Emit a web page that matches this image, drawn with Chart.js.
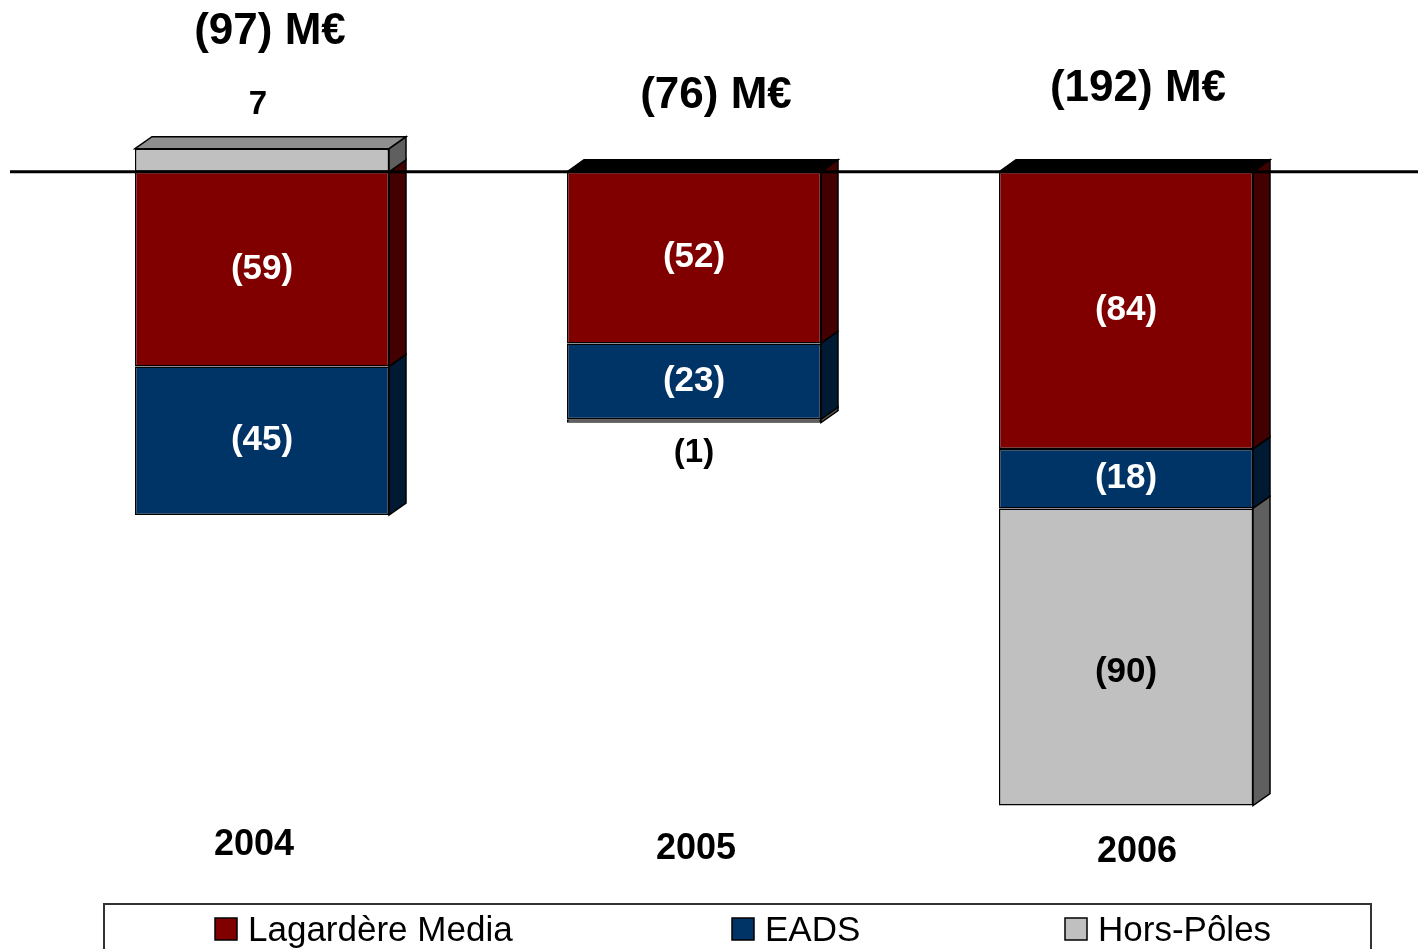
<!DOCTYPE html>
<html>
<head>
<meta charset="utf-8">
<title>Résultat par pôle</title>
<script src="https://cdn.jsdelivr.net/npm/chart.js@4/dist/chart.umd.min.js"></script>
<style>
  html, body { margin: 0; padding: 0; background: #fff; }
  #wrap { width: 1418px; height: 949px; }
</style>
</head>
<body>
<div id="wrap"><canvas id="chart" width="1418" height="949"></canvas></div>
<script>
/* ── Data ── */
var categories = ['2004', '2005', '2006'];
var lagardere  = [-59, -52, -84];
var eads       = [-45, -23, -18];
var horsPoles  = [7, -1, -90];
var seriesNames = ['Lagardère Media', 'EADS', 'Hors-Pôles'];

/* ── Look ── */
var FONT = 'Arial, "Liberation Sans", Helvetica, sans-serif';
var frontColors = ['#800000', '#003366', '#c0c0c0'];
var sideColors  = ['#420000', '#001a33', '#5f5f5f'];
var topColors   = ['#5a0000', '#00264d', '#8f8f8f'];
var DX = 17, DY = -12;

// hand placed text rows (as on the slide)
var totalY  = [32, 96, 89];
var totalDx = [8, 22, 12];
var yearY   = [845, 849, 852];
var yearDx  = [-8, 2, 11];
var legendX = [215, 732, 1065];

function fmt(v) {
  return v < 0 ? '(' + Math.abs(v) + ')' : String(v);
}

function poly(ctx, pts, fill) {
  ctx.beginPath();
  ctx.moveTo(pts[0][0], pts[0][1]);
  for (var i = 1; i < pts.length; i++) ctx.lineTo(pts[i][0], pts[i][1]);
  ctx.closePath();
  ctx.fillStyle = fill;
  ctx.fill();
  ctx.lineWidth = 1.5;
  ctx.strokeStyle = '#000';
  ctx.stroke();
}

var threeD = {
  id: 'threeD',
  afterDatasetsDraw: function (chart) {
    var ctx = chart.ctx;
    var n = chart.data.datasets.length;
    ctx.save();

    // side faces
    for (var i = 0; i < n; i++) {
      var meta = chart.getDatasetMeta(i);
      meta.data.forEach(function (bar) {
        var right = bar.x + bar.width / 2;
        var top = Math.min(bar.y, bar.base), bottom = Math.max(bar.y, bar.base);
        poly(ctx, [[right, top], [right + DX, top + DY], [right + DX, bottom + DY], [right, bottom]], sideColors[i]);
      });
    }

    // top face on the highest segment of each column
    categories.forEach(function (c, j) {
      var best = null, bestIdx = 0;
      for (var i = 0; i < n; i++) {
        var bar = chart.getDatasetMeta(i).data[j];
        var top = Math.min(bar.y, bar.base);
        if (best === null || top < best.top - 0.5) { best = { bar: bar, top: top }; bestIdx = i; }
      }
      var val = chart.data.datasets[bestIdx].data[j];
      var l = best.bar.x - best.bar.width / 2, r = best.bar.x + best.bar.width / 2;
      poly(ctx, [[l, best.top], [l + DX, best.top + DY], [r + DX, best.top + DY], [r, best.top]],
           val > 0 ? topColors[bestIdx] : '#000');
    });

    // zero line over the bars
    var y0 = chart.scales.y.getPixelForValue(0);
    ctx.beginPath();
    ctx.moveTo(10, y0);
    ctx.lineTo(1418, y0);
    ctx.lineWidth = 3;
    ctx.strokeStyle = '#000';
    ctx.stroke();

    // segment labels: inside when the segment is tall enough, else outside
    ctx.textAlign = 'center';
    ctx.textBaseline = 'middle';
    for (var i = 0; i < n; i++) {
      var ds = chart.data.datasets[i];
      chart.getDatasetMeta(i).data.forEach(function (bar, j) {
        var v = ds.data[j];
        var top = Math.min(bar.y, bar.base), bottom = Math.max(bar.y, bar.base);
        if (bottom - top > 40) {
          ctx.font = 'bold 35px ' + FONT;
          ctx.fillStyle = i === 2 ? '#000' : '#fff';
          var cy = (top + bottom) / 2 + (i === 2 && v < 0 ? 15 : 0);
          ctx.fillText(fmt(v), bar.x, cy);
        } else {
          ctx.font = 'bold 33px ' + FONT;
          ctx.fillStyle = '#000';
          if (v > 0) ctx.fillText(fmt(v), bar.x - 4, top - 44);
          else ctx.fillText(fmt(v), bar.x, bottom + 30);
        }
      });
    }

    // totals and years
    var xs = chart.scales.x;
    categories.forEach(function (c, j) {
      var total = 0;
      for (var i = 0; i < n; i++) total += chart.data.datasets[i].data[j];
      var cx = xs.getPixelForValue(j);
      ctx.fillStyle = '#000';
      ctx.font = 'bold 44px ' + FONT;
      ctx.fillText(fmt(total) + ' M€', cx + totalDx[j], totalY[j]);
      ctx.font = 'bold 36px ' + FONT;
      ctx.fillText(c, cx + yearDx[j], yearY[j]);
    });
    ctx.restore();
  },
  afterDraw: function (chart) {
    var ctx = chart.ctx;
    ctx.save();
    // legend frame
    ctx.lineWidth = 2;
    ctx.strokeStyle = '#333';
    ctx.strokeRect(104, 904, 1267, 60);

    ctx.font = '35px ' + FONT;
    ctx.textBaseline = 'alphabetic';
    ctx.textAlign = 'left';
    var box = 22, gapText = 11;
    seriesNames.forEach(function (s, i) {
      var x = legendX[i];
      ctx.fillStyle = frontColors[i];
      ctx.fillRect(x, 918, box, box);
      ctx.lineWidth = 1.5;
      ctx.strokeStyle = '#000';
      ctx.strokeRect(x, 918, box, box);
      ctx.fillStyle = '#000';
      ctx.fillText(s, x + box + gapText, 941);
    });
    ctx.restore();
  }
};

var seriesData = [lagardere, eads, horsPoles];

new Chart(document.getElementById('chart'), {
  type: 'bar',
  data: {
    labels: categories,
    datasets: seriesData.map(function (d, i) {
      return {
        label: seriesNames[i],
        data: d,
        backgroundColor: frontColors[i],
        borderColor: '#000',
        borderWidth: 1.5,
        borderSkipped: false,
        barPercentage: 0.588,
        categoryPercentage: 1
      };
    })
  },
  options: {
    responsive: false,
    animation: false,
    devicePixelRatio: 1,
    layout: { padding: { left: 46, right: 76, top: 10, bottom: 51 } },
    scales: {
      x: { display: false, stacked: true },
      y: { display: false, stacked: true, min: -220, max: 49 }
    },
    plugins: { legend: { display: false }, tooltip: { enabled: false } }
  },
  plugins: [threeD]
});
</script>
</body>
</html>
